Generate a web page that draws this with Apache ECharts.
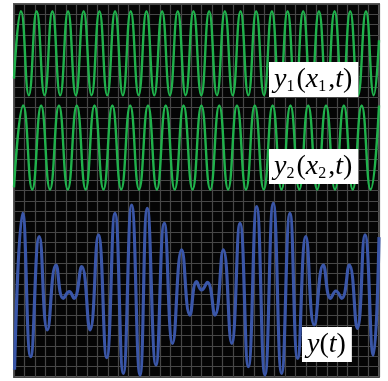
<!DOCTYPE html>
<html>
<head>
<meta charset="utf-8">
<style>
  html, body { margin: 0; padding: 0; background: #fff; }
  #chart { width: 388px; height: 381px; }
</style>
<script src="https://cdn.jsdelivr.net/npm/echarts@6/dist/echarts.min.js"></script>
</head>
<body>
<div id="chart"></div>
<script>
// time in grid divisions (0..35), amplitude in grid divisions (0..36)
const wave1 = [
  [0, 28.8], [0.67, 35.3], [1.42, 27.2], [2.17, 35.3], [2.93, 27.2], [3.68, 35.3], [4.43, 27.2],
  [5.18, 35.3], [5.93, 27.2], [6.68, 35.3], [7.44, 27.2], [8.19, 35.3], [8.94, 27.2], [9.69, 35.3],
  [10.44, 27.2], [11.19, 35.3], [11.95, 27.2], [12.70, 35.3], [13.45, 27.2], [14.20, 35.3], [14.95, 27.2],
  [15.70, 35.3], [16.46, 27.2], [17.21, 35.3], [17.96, 27.2], [18.71, 35.3], [19.46, 27.2], [20.22, 35.3],
  [20.97, 27.2], [21.72, 35.3], [22.47, 27.2], [23.22, 35.3], [23.97, 27.2], [24.73, 35.3], [25.48, 27.2],
  [26.23, 35.3], [26.98, 27.2], [27.73, 35.3], [28.48, 27.2], [29.24, 35.3], [29.99, 27.2], [30.74, 35.3],
  [31.49, 27.2], [32.24, 35.3], [32.99, 27.2], [33.75, 35.3], [34.50, 27.2], [35, 32.5]
];

const wave2 = [
  [0, 18.3], [0.89, 26.2], [1.75, 18.1], [2.60, 26.2], [3.45, 18.1], [4.31, 26.2], [5.16, 18.1],
  [6.02, 26.2], [6.87, 18.1], [7.72, 26.2], [8.58, 18.1], [9.43, 26.2], [10.28, 18.1], [11.14, 26.2],
  [11.99, 18.1], [12.85, 26.2], [13.70, 18.1], [14.55, 26.2], [15.41, 18.1], [16.26, 26.2], [17.12, 18.1],
  [17.97, 26.2], [18.82, 18.1], [19.68, 26.2], [20.53, 18.1], [21.38, 26.2], [22.24, 18.1], [23.09, 26.2],
  [23.95, 18.1], [24.80, 26.2], [25.65, 18.1], [26.51, 26.2], [27.36, 18.1], [28.21, 26.2], [29.07, 18.1],
  [29.92, 26.2], [30.78, 18.1], [31.63, 26.2], [32.48, 18.1], [33.34, 26.2], [34.19, 18.1], [35, 26.2]
];

const sumWave = [
  [0.05, 0.7], [0.83, 15.8], [1.60, 1.96], [2.43, 13.55], [3.20, 4.54], [4.03, 10.81], [4.73, 7.59],
  [5.30, 8.24], [5.75, 7.59], [6.49, 10.65], [7.29, 4.54], [8.09, 13.71], [8.89, 1.87], [9.68, 15.8],
  [10.48, 0.35], [11.28, 16.6], [12.08, 0.19], [12.78, 16.28], [13.61, 1.16], [14.41, 14.83], [15.21, 3.25],
  [16.08, 12.26], [16.87, 5.98], [17.51, 9.2], [17.99, 8.4], [18.54, 9.14], [19.27, 5.98], [20.07, 12.26],
  [20.87, 3.25], [21.67, 14.83], [22.47, 1.0], [23.27, 16.44], [24.06, 0.19], [24.86, 16.76], [25.66, 0.35],
  [26.46, 15.8], [27.20, 1.8], [27.99, 13.55], [28.79, 5.02], [29.66, 10.81], [30.36, 7.59], [30.87, 8.3],
  [31.42, 7.59], [32.15, 10.81], [32.92, 4.7], [33.65, 13.71], [34.45, 2.12], [35, 13.5]
];

const chart = echarts.init(document.getElementById('chart'));

const serif = '"Liberation Serif", "DejaVu Serif", serif';
const labelRich = {
  i: { fontFamily: serif, fontStyle: 'italic', fontSize: 28, color: '#111', lineHeight: 30 },
  n: { fontFamily: serif, fontSize: 28, color: '#111', lineHeight: 30 },
  s: { fontFamily: serif, fontSize: 16, color: '#111', lineHeight: 24, verticalAlign: 'bottom', padding: [0, 2, 0, 0] }
};

function label(x, y, text) {
  return {
    type: 'text',
    x: x,
    y: y,
    z: 100,
    style: {
      text: text,
      rich: labelRich,
      backgroundColor: '#fff',
      padding: [3, 6, 2, 5]
    }
  };
}

chart.setOption({
  animation: false,
  backgroundColor: '#fff',
  grid: {
    left: 14, right: 9, top: 4, bottom: 4,
    show: true,
    backgroundColor: '#050505',
    borderColor: '#5a5a5a',
    borderWidth: 2
  },
  xAxis: {
    type: 'value', min: 0, max: 35, interval: 1,
    axisLine: { show: false }, axisTick: { show: false }, axisLabel: { show: false },
    splitLine: { lineStyle: { color: '#474747', width: 1.2 } }
  },
  yAxis: {
    type: 'value', min: 0, max: 36, interval: 1,
    axisLine: { show: false }, axisTick: { show: false }, axisLabel: { show: false },
    splitLine: { lineStyle: { color: '#474747', width: 1.2 } }
  },
  series: [
    { type: 'line', data: wave1, smooth: 0.5, showSymbol: false, lineStyle: { color: '#20b24c', width: 2.4 } },
    { type: 'line', data: wave2, smooth: 0.5, showSymbol: false, lineStyle: { color: '#20b24c', width: 2.4 } },
    { type: 'line', data: sumWave, smooth: 0.5, showSymbol: false, lineStyle: { color: '#3a56a8', width: 3.2 } }
  ],
  graphic: [
    label(269, 62, '{i|y}{s|1}{n|(}{i|x}{s|1}{n|,}{i|t}{n|)}'),
    label(269, 149, '{i|y}{s|2}{n|(}{i|x}{s|2}{n|,}{i|t}{n|)}'),
    label(302, 327, '{i|y}{n|(}{i|t}{n|)}')
  ]
});
</script>
</body>
</html>
